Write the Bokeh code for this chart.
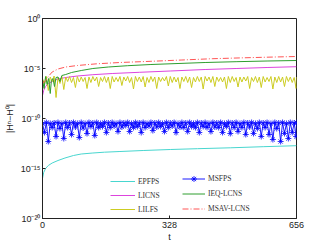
import numpy as np
from bokeh.plotting import figure
from bokeh.models import Legend, LegendItem, FixedTicker, Range1d
from bokeh.embed import file_html
from bokeh.resources import INLINE

# ---------------- data (log10 of |H^n - H^0|) ----------------
x_ticks = [0, 328, 656]
y_ticks = [1e-20, 1e-15, 1e-10, 1e-5, 1e0]
y_tick_labels = ["10⁻²⁰", "10⁻¹⁵", "10⁻¹⁰", "10⁻⁵", "10⁰"]

t_epfps = [0, 3, 8, 15, 25, 40, 58, 80, 100, 130, 160, 200, 260, 330, 400, 485, 570, 656]
log_epfps = [-16.0, -15.4, -15.0, -14.7, -14.45, -14.2, -13.95, -13.7, -13.55, -13.45,
             -13.37, -13.3, -13.2, -13.1, -13.02, -12.93, -12.82, -12.72]

t_licns = [0, 3, 8, 15, 25, 40, 60, 90, 130, 180, 250, 330, 420, 500, 580, 656]
log_licns = [-7.7, -7.2, -6.8, -6.5, -6.3, -6.05, -5.9, -5.75, -5.62, -5.5, -5.38,
             -5.25, -5.1, -5.0, -4.9, -4.82]

t_ieq = [0, 4, 8, 12, 16, 20, 23, 27, 31, 35, 40, 45, 50, 60, 75, 100, 130, 170, 220,
         280, 350, 420, 500, 580, 656]
log_ieq = [-6.1, -7.0, -5.8, -6.6, -6.0, -7.5, -6.2, -6.0, -6.8, -5.9, -5.85, -6.3, -5.7,
           -5.6, -5.4, -5.2, -5.0, -4.85, -4.72, -4.6, -4.5, -4.4, -4.32, -4.25, -4.2]

t_msav = [0, 8, 15, 25, 40, 60, 90, 140, 200, 280, 360, 440, 520, 600, 656]
log_msav = [-6.5, -6.2, -5.8, -5.35, -5.05, -4.85, -4.7, -4.53, -4.4, -4.28, -4.15,
            -4.02, -3.93, -3.85, -3.8]

log_lilfs = [
    -6.0, -6.6, -5.8, -7.2, -5.85, -6.3, -5.75, -7.9, -5.9, -6.5, -5.8, -7.1,
    -5.85, -6.3, -5.8, -6.4, -5.9, -6.9,
    -5.8, -6.35, -5.85, -6.3, -5.9, -7.0,
    -5.85, -6.4, -5.8, -6.25, -5.85, -6.8,
    -5.9, -6.3, -5.8, -6.4, -5.85, -7.0,
    -5.8, -6.35, -5.9, -6.3, -5.8, -6.7,
    -5.85, -6.25, -5.8, -6.4, -5.9, -7.05,
    -5.8, -6.3, -5.85, -6.35, -5.8, -6.85,
    -5.9, -6.4, -5.8, -6.3, -5.85, -7.0,
    -5.85, -6.3, -5.9, -6.25, -5.8, -6.75,
    -5.8, -6.4, -5.85, -6.35, -5.9, -7.0,
    -5.85, -6.3, -5.8, -6.4, -5.85, -6.9,
    -5.9, -6.35, -5.8, -6.3, -5.85, -7.05,
    -5.8, -6.25, -5.85, -6.4, -5.8, -6.8,
    -5.85, -6.3, -5.9, -6.35, -5.85, -7.0,
    -5.8, -6.4, -5.8, -6.3, -5.9, -6.85,
    -5.85, -6.35, -5.85, -6.25, -5.8, -7.0,
    -5.9, -6.3, -5.8, -6.4, -5.85, -6.9,
    -5.8, -6.35, -5.9, -6.3, -5.8, -7.05,
    -5.85, -6.4, -5.8, -6.35, -5.85, -6.8,
    -5.8, -6.3, -5.85, -6.4, -5.9, -7.0,
    -5.85,
]

log_msfps = [
    -10.5, -11.4, -10.4, -12.3, -10.5, -10.9, -10.45, -11.8, -10.4, -11.0,
    -10.5, -12.0, -10.4, -10.9, -10.45, -11.6, -10.4, -10.85, -10.5, -11.9,
    -10.4, -10.95, -10.5, -11.5, -10.4, -10.8, -10.45, -11.7, -10.4, -10.9,
    -10.5, -10.8, -10.4, -11.4, -10.45, -10.9, -10.4, -10.75, -10.5, -11.3,
    -10.4, -10.85, -10.45, -10.7, -10.4, -11.3, -10.5, -10.9, -10.4, -10.8,
    -10.45, -11.4, -10.4, -10.9, -10.5, -10.75, -10.4, -11.2, -10.45, -10.85,
    -10.4, -10.8, -10.5, -11.3, -10.4, -10.9, -10.45, -10.75, -10.4, -11.4,
    -10.5, -10.85, -10.4, -10.9, -10.45, -11.3, -10.4, -10.8, -10.5, -10.9,
    -10.4, -11.4, -10.45, -10.8, -10.4, -10.9, -10.5, -11.3, -10.4, -10.85,
    -10.45, -10.9, -10.4, -11.4, -10.5, -10.8, -10.4, -11.5, -10.45, -10.9,
    -10.4, -11.3, -10.5, -10.9, -10.4, -11.6, -10.45, -10.85, -10.4, -11.5,
    -10.5, -11.0, -10.4, -11.8, -10.45, -10.9, -10.4, -11.6, -10.5, -12.1,
    -10.4, -11.0, -10.45, -12.3, -10.4, -11.5, -10.5, -12.0, -10.4, -11.4,
    -10.45, -11.8, -10.4,
]

t_dense = list(range(0, 656, 5)) + [656]

names = ["EPFPS", "LICNS", "LILFS", "MSFPS", "IEQ-LCNS", "MSAV-LCNS"]
colors = ["#48d6cf", "#dd44dd", "#cccc22", "#0000ff", "#2e9e2e", "#ff5555"]

# ---------------- figure ----------------
p = figure(width=319, height=244, output_backend="svg", toolbar_location=None,
           y_axis_type="log", x_range=Range1d(0, 656), y_range=Range1d(1e-20, 1e0),
           min_border_left=42, min_border_right=23, min_border_top=18,
           min_border_bottom=22)
p.grid.visible = False
p.outline_line_color = "#222222"
p.background_fill_color = "white"

def pw(arr):
    return [10.0 ** v for v in arr]

r_ep = p.line(t_epfps, pw(log_epfps), line_color=colors[0], line_width=1)
r_li = p.line(t_licns, pw(log_licns), line_color=colors[1], line_width=1)
r_lf = p.line(t_dense, pw(log_lilfs), line_color=colors[2], line_width=1)
r_msl = p.line(t_dense, pw(log_msfps), line_color=colors[3], line_width=0.9)
r_mss = p.scatter(t_dense, pw(log_msfps), marker="asterisk", size=6,
                  line_color=colors[3], line_width=0.8)
r_ieq = p.line(t_ieq, pw(log_ieq), line_color=colors[4], line_width=1)
r_msav = p.line(t_msav, pw(log_msav), line_color=colors[5], line_width=1,
                line_dash="6 2 1 2")

font = "Liberation Sans"
for ax in (p.xaxis[0], p.yaxis[0]):
    ax.major_label_text_font = font
    ax.major_label_text_font_size = "9px"
    ax.major_label_text_color = "#222222"
    ax.axis_label_text_font = font
    ax.axis_label_text_font_size = "9px"
    ax.axis_label_text_font_style = "normal"
    ax.axis_label_text_color = "#222222"
    ax.major_tick_in = 3
    ax.major_tick_out = 0
    ax.minor_tick_in = 0
    ax.minor_tick_out = 0
    ax.axis_line_color = "#222222"
    ax.major_tick_line_color = "#222222"

p.xaxis[0].ticker = FixedTicker(ticks=x_ticks)
p.xaxis[0].axis_label = "t"
p.xaxis[0].major_label_standoff = 3
p.xaxis[0].axis_label_standoff = 1

p.yaxis[0].ticker = FixedTicker(ticks=y_ticks)
p.yaxis[0].major_label_overrides = dict(zip(y_ticks, y_tick_labels))
p.yaxis[0].axis_label = "|Hⁿ−H⁰|"
p.yaxis[0].major_label_standoff = 2
p.yaxis[0].axis_label_standoff = 3

def make_legend(items, loc, gw, gh):
    lg = Legend(items=items, location=loc, glyph_width=gw, glyph_height=gh,
                label_height=gh, spacing=0, padding=0, margin=0,
                border_line_alpha=0, background_fill_alpha=0,
                label_text_font="Liberation Serif", label_text_font_size="7.5px",
                label_text_color="#333333", label_standoff=3)
    return lg

leg1 = make_legend([LegendItem(label=names[0], renderers=[r_ep]),
                    LegendItem(label=names[1], renderers=[r_li]),
                    LegendItem(label=names[2], renderers=[r_lf])], (68, 2), 25, 14)
leg2 = make_legend([LegendItem(label=names[3], renderers=[r_msl, r_mss]),
                    LegendItem(label=names[4], renderers=[r_ieq]),
                    LegendItem(label=names[5], renderers=[r_msav])], (140, 2), 23, 15)
p.add_layout(leg1)
p.add_layout(leg2)

open("out.html", "w").write(file_html(p, INLINE))
